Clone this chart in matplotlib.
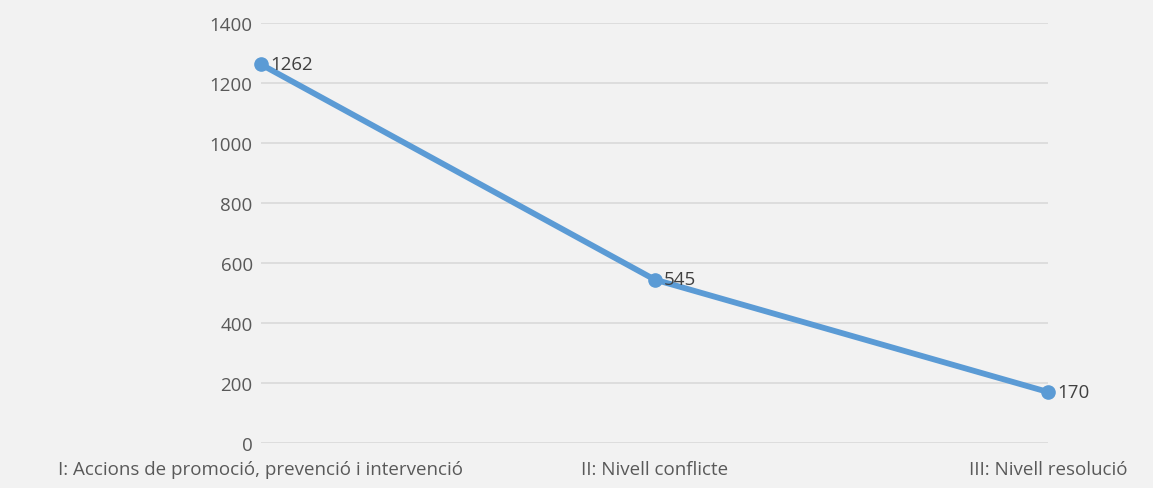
import matplotlib
matplotlib.use("Agg")
import matplotlib.pyplot as plt

categories = ["I: Accions de promoció, prevenció i intervenció",
              "II: Nivell conflicte",
              "III: Nivell resolució"]
values = [1262, 545, 170]
y_ticks = [0, 200, 400, 600, 800, 1000, 1200, 1400]

plt.rcParams['font.family'] = ['Open Sans', 'DejaVu Sans']

bg = "#f2f2f2"
line_color = "#5b9bd5"
text_color = "#595959"

fig = plt.figure(figsize=(11.53, 4.89), dpi=100, facecolor=bg)
ax = fig.add_axes([261 / 1153, 45 / 489, (1048 - 261) / 1153, 420 / 489])
ax.set_facecolor(bg)

x = list(range(len(categories)))
ax.plot(x, values, color=line_color, linewidth=4.2, marker="o",
        markersize=9.5, solid_capstyle="round", zorder=3, clip_on=False)

for xi, v in zip(x, values):
    ax.annotate(str(v), (xi, v), xytext=(6.5, 0), textcoords="offset points",
                ha="left", va="center", fontsize=13.5, color="#404040")

ax.set_xlim(0, 2)
ax.set_ylim(0, 1400)
ax.set_yticks(y_ticks)
ax.set_xticks(x)
ax.set_xticklabels(categories, fontsize=13.5)
ax.grid(axis="y", color="#d9d9d9", linewidth=1.2)
ax.set_axisbelow(True)
for s in ax.spines.values():
    s.set_visible(False)
ax.tick_params(axis="both", length=0, colors=text_color, labelsize=13.5)
ax.tick_params(axis="y", pad=6)
ax.tick_params(axis="x", pad=12)

fig.savefig("out.png", dpi=100, facecolor=bg)
